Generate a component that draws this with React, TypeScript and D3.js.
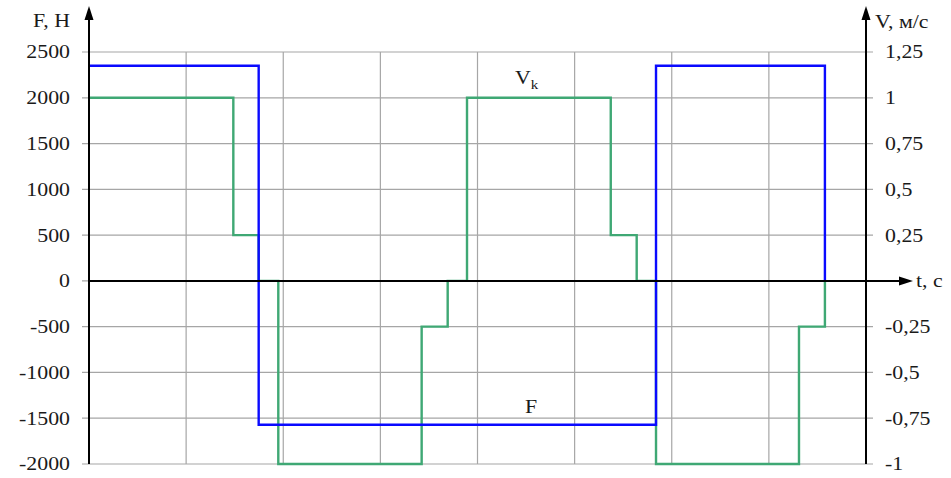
import React from "react";
import * as d3 from "d3";

// Force F, N (left axis) — step profile over time
const forceT: number[] = [0, 1.747, 1.747, 5.838, 5.838, 7.577, 7.577];
const forceV: number[] = [2350, 2350, -1572, -1572, 2350, 2350, 0];

// Velocity Vk, m/s (right axis) — step profile over time
const velT: number[] = [0, 1.486, 1.486, 1.747, 1.747, 1.949, 1.949, 3.425, 3.425, 3.693, 3.693, 3.892, 3.892, 5.372, 5.372, 5.639, 5.639, 5.838, 5.838, 7.31, 7.31, 7.577, 7.577];
const velV: number[] = [1, 1, 0.25, 0.25, 0, 0, -1, -1, -0.25, -0.25, 0, 0, 1, 1, 0.25, 0.25, 0, 0, -1, -1, -0.25, -0.25, 0];

const leftTicks: number[] = [2500, 2000, 1500, 1000, 500, 0, -500, -1000, -1500, -2000];
const rightTicks: number[] = [1.25, 1, 0.75, 0.5, 0.25, -0.25, -0.5, -0.75, -1];
const rightTickLabels: string[] = ["1,25", "1", "0,75", "0,5", "0,25", "-0,25", "-0,5", "-0,75", "-1"];
const timeGrid: number[] = [1, 2, 3, 4, 5, 6, 7];

const W = 951;
const H = 478;
const x0 = 89;
const x1 = 866;
const yTop = 52;
const yBot = 464;

const FONT = '"Liberation Serif", "Times New Roman", Times, serif';
const STRETCH = 1.15;

// Text set in a slightly widened serif face
function T(props: {
  x: number;
  y: number;
  anchor?: "start" | "end" | "middle";
  dy?: string;
  size?: number;
  children: React.ReactNode;
}) {
  const { x, y, anchor = "start", dy, size = 19, children } = props;
  return (
    <text
      transform={`translate(${x},${y}) scale(${STRETCH},1)`}
      dy={dy}
      textAnchor={anchor}
      fill="#1a1a1a"
      style={{ fontFamily: FONT, fontSize: `${size}px` }}
    >
      {children}
    </text>
  );
}

export default function App() {
  const x = d3.scaleLinear().domain([0, 8]).range([x0, x1]);
  const yF = d3.scaleLinear().domain([-2000, 2500]).range([yBot, yTop]);
  const yV = d3.scaleLinear().domain([-1, 1.25]).range([yBot, yTop]);

  const forceLine = d3
    .line<number>()
    .x((_, i) => x(forceT[i]))
    .y((d) => yF(d));
  const velLine = d3
    .line<number>()
    .x((_, i) => x(velT[i]))
    .y((d) => yV(d));

  const y0 = yF(0);

  return (
    <svg width={W} height={H} style={{ position: "absolute", left: 0, top: 0 }}>
      <rect width={W} height={H} fill="#fff" />
      {/* vertical grid */}
      {timeGrid.map((t) => (
        <line key={"vg" + t} x1={x(t)} x2={x(t)} y1={yTop} y2={yBot} stroke="#a6a6a6" strokeWidth={1.2} />
      ))}
      {/* horizontal grid */}
      {leftTicks.map((v) => (
        <line key={"hg" + v} x1={x0 - 7} x2={x1 + 7} y1={yF(v)} y2={yF(v)} stroke="#a6a6a6" strokeWidth={1.2} />
      ))}
      {/* left tick labels */}
      {leftTicks.map((v) => (
        <T key={"lt" + v} x={70} y={yF(v)} dy="0.34em" anchor="end">
          {v}
        </T>
      ))}
      {/* right tick labels */}
      {rightTicks.map((v, i) => (
        <T key={"rt" + v} x={885} y={yV(v)} dy="0.34em">
          {rightTickLabels[i]}
        </T>
      ))}
      {/* series */}
      <path d={velLine(velV) || ""} fill="none" stroke="#3fa874" strokeWidth={2.4} />
      <path d={forceLine(forceV) || ""} fill="none" stroke="#0a0aff" strokeWidth={2.4} />
      {/* axes */}
      <line x1={x0} x2={x0} y1={18} y2={yBot} stroke="#000" strokeWidth={2} />
      <path d={`M${x0},6 L${x0 - 4.5},20 L${x0 + 4.5},20 Z`} fill="#000" />
      <line x1={x1} x2={x1} y1={18} y2={yBot} stroke="#000" strokeWidth={2} />
      <path d={`M${x1},6 L${x1 - 4.5},20 L${x1 + 4.5},20 Z`} fill="#000" />
      <line x1={x0} x2={900} y1={y0} y2={y0} stroke="#000" strokeWidth={2} />
      <path d={`M913,${y0} L899,${y0 - 4.5} L899,${y0 + 4.5} Z`} fill="#000" />
      {/* axis titles */}
      <T x={70} y={27} anchor="end">F, H</T>
      <T x={875} y={28}>V, м/с</T>
      <T x={916} y={y0} dy="0.34em">t, c</T>
      {/* series labels */}
      <T x={515} y={84}>
        V<tspan style={{ fontSize: "13px" }} dy={5}>k</tspan>
      </T>
      <T x={525} y={413}>F</T>
    </svg>
  );
}
